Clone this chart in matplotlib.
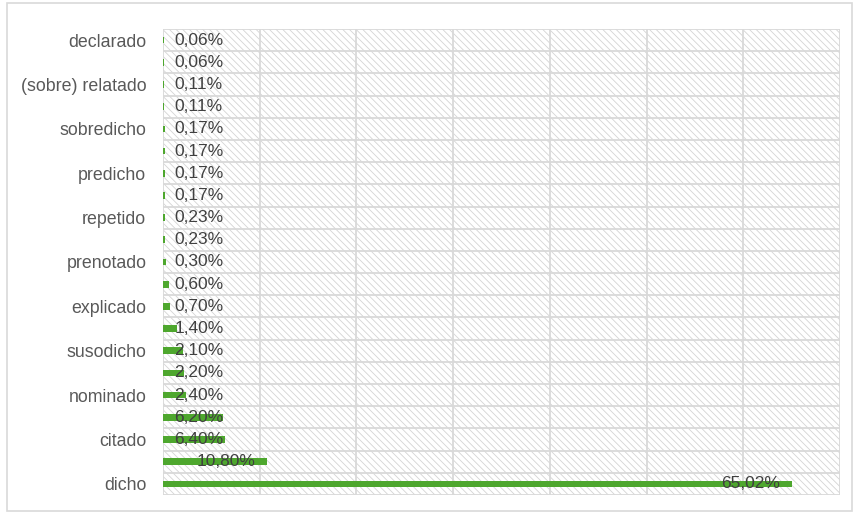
import matplotlib.pyplot as plt
from matplotlib.patches import Rectangle

# Data (bottom to top); only every other category name is shown in the chart
categories = ["dicho", "", "citado", "", "nominado", "", "susodicho", "",
              "explicado", "", "prenotado", "", "repetido", "", "predicho", "",
              "sobredicho", "", "(sobre) relatado", "", "declarado"]
values = [65.02, 10.80, 6.40, 6.20, 2.40, 2.20, 2.10, 1.40, 0.70, 0.60,
          0.30, 0.23, 0.23, 0.17, 0.17, 0.17, 0.17, 0.11, 0.11, 0.06, 0.06]
labels = [f"{v:.2f}%".replace(".", ",") for v in values]

green = "#4ea72e"
grid_col = "#d9d9d9"

plt.rcParams["font.family"] = ["Liberation Sans", "DejaVu Sans"]
plt.rcParams["hatch.linewidth"] = 0.6
plt.rcParams["hatch.color"] = "#d0d0d0"

fig = plt.figure(figsize=(8.54, 5.15), dpi=100)
ax = fig.add_axes([163 / 854, 1 - 495 / 515, (840 - 163) / 854, (495 - 29) / 515])

# outer chart border
fig.patches.append(Rectangle((7 / 854, 4 / 515), 845 / 854, 508 / 515,
                             transform=fig.transFigure, fill=False,
                             edgecolor=grid_col, linewidth=1.2))

# hatched plot area
ax.add_patch(Rectangle((0, 0), 1, 1, transform=ax.transAxes, facecolor="white",
                       hatch="\\\\\\\\\\", edgecolor="#d4d4d4", linewidth=0, zorder=0))

y = list(range(len(values)))
ax.barh(y, values, height=0.3, color=green, zorder=3)

for yi, v, lab in zip(y, values, labels):
    if v > 8:
        ax.text(v - 1.2, yi, lab, ha="right", va="center", fontsize=12.5,
                color="#404040", zorder=4)
    else:
        ax.text(1.2, yi, lab, ha="left", va="center", fontsize=12.5,
                color="#404040", zorder=4)

ax.set_xlim(0, 70)
ax.set_ylim(-0.5, len(values) - 0.5)

# gridlines between categories and every 10%
for b in range(len(values) + 1):
    ax.axhline(b - 0.5, color=grid_col, linewidth=1.3, zorder=1)
for gx in range(0, 71, 10):
    ax.axvline(gx, color=grid_col, linewidth=1.3, zorder=1)

ax.set_yticks(y[::2])
ax.set_yticklabels(categories[::2], fontsize=12.8, color="#595959")
ax.tick_params(axis="y", length=0, pad=12)
ax.set_xticks([])
for s in ax.spines.values():
    s.set_visible(False)

fig.savefig("out.png", dpi=100)
